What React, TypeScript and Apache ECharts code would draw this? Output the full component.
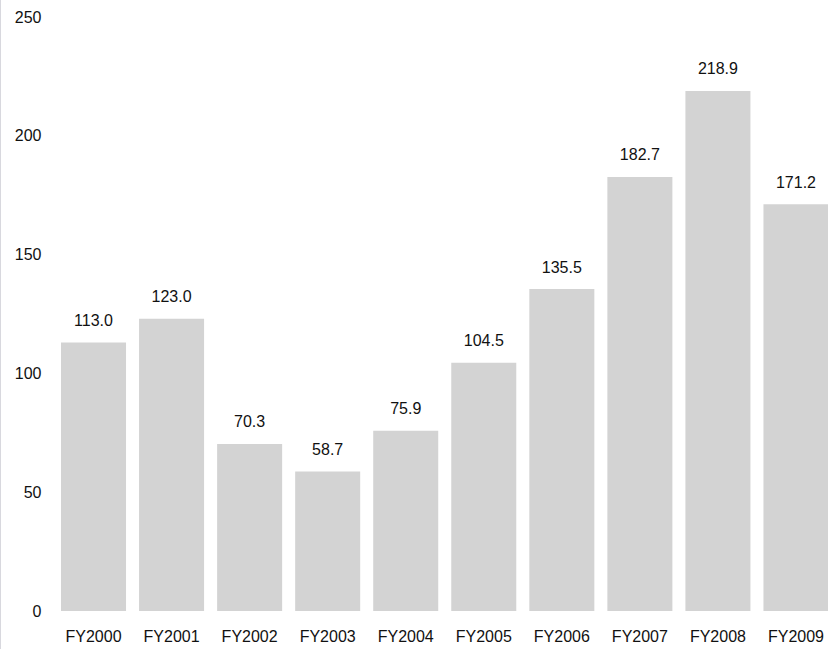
import React, { useEffect, useRef } from "react";
import * as echarts from "echarts";

// Fiscal years and their values
const years = ["FY2000", "FY2001", "FY2002", "FY2003", "FY2004", "FY2005", "FY2006", "FY2007", "FY2008", "FY2009"];
const values = [113.0, 123.0, 70.3, 58.7, 75.9, 104.5, 135.5, 182.7, 218.9, 171.2];
const yTicks = [0, 50, 100, 150, 200, 250];

const FONT = "'Liberation Sans', Arial, Helvetica, sans-serif";

export default function App() {
  const ref = useRef<HTMLDivElement>(null);

  useEffect(() => {
    if (!ref.current) return;
    const chart = echarts.init(ref.current, null, { renderer: "svg" });
    chart.setOption({
      animation: false,
      backgroundColor: "#ffffff",
      grid: { left: 54.5, right: 0, top: 17, bottom: 38 },
      graphic: [
        {
          type: "rect",
          left: 0,
          top: 0,
          shape: { x: 0, y: 0, width: 1, height: 649 },
          style: { fill: "#d8d8de" },
          silent: true,
        },
      ],
      xAxis: {
        type: "category",
        data: years,
        axisLine: { show: false },
        axisTick: { show: false },
        axisLabel: {
          color: "#111111",
          fontFamily: FONT,
          fontSize: 16,
          margin: 17,
          interval: 0,
        },
      },
      yAxis: {
        type: "value",
        min: yTicks[0],
        max: yTicks[yTicks.length - 1],
        interval: yTicks[1] - yTicks[0],
        axisLine: { show: false },
        axisTick: { show: false },
        splitLine: { show: false },
        axisLabel: {
          color: "#111111",
          fontFamily: FONT,
          fontSize: 16,
          margin: 13,
        },
      },
      series: [
        {
          type: "bar",
          data: values,
          barCategoryGap: "16.7%",
          itemStyle: { color: "#d3d3d3" },
          label: {
            show: true,
            position: "top",
            distance: 14,
            color: "#111111",
            fontFamily: FONT,
            fontSize: 16,
            formatter: (p: any) => Number(p.value).toFixed(1),
          },
        },
      ],
    });
    return () => chart.dispose();
  }, []);

  return (
    <div
      style={{
        position: "absolute",
        left: 0,
        top: 0,
        width: 828,
        height: 649,
        overflow: "hidden",
        background: "#ffffff",
      }}
    >
      <div ref={ref} style={{ width: 834.5, height: 649 }} />
    </div>
  );
}
